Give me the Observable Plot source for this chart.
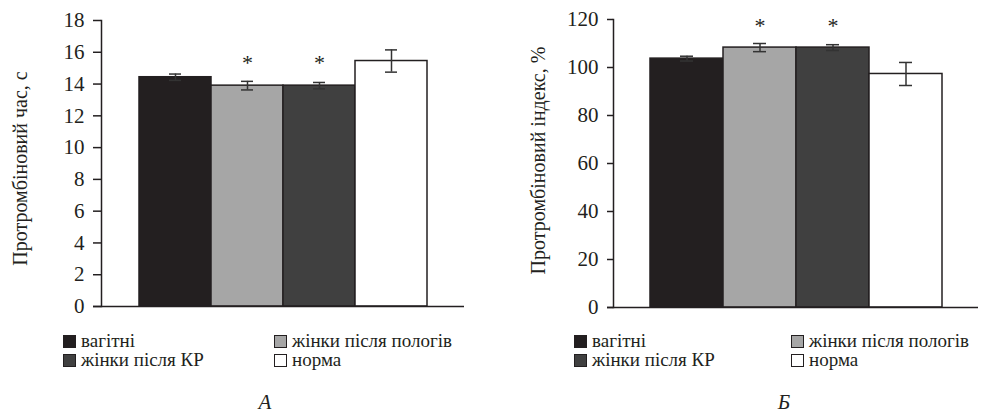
<!DOCTYPE html>
<html>
<head>
<meta charset="utf-8">
<script src="https://cdn.jsdelivr.net/npm/d3@7"></script>
<script src="https://cdn.jsdelivr.net/npm/@observablehq/plot@0.6"></script>
</head>
<body style="margin:0;padding:0;background:#fff">
<div id="root"></div>
<script>
const categories = ["вагітні", "жінки після пологів", "жінки після КР", "норма"];
const timeMean = [14.43, 13.9, 13.9, 15.45];
const timeErr = [0.2, 0.27, 0.2, 0.7];
const indexMean = [103.7, 108.3, 108.3, 97.3];
const indexErr = [1.0, 1.7, 1.2, 4.8];
const significant = [false, true, true, false];
const timeTicks = [0, 2, 4, 6, 8, 10, 12, 14, 16, 18];
const indexTicks = [0, 20, 40, 60, 80, 100, 120];
const timeLabel = "Протромбіновий час, с";
const indexLabel = "Протромбіновий індекс, %";
const panelCaptions = ["А", "Б"];

const fills = ["#231f20", "#a6a6a6", "#404040", "#ffffff"];
const ink = "#231f20";
const serif = "'Liberation Serif', monospace";

function setFont(el) { el.style.setProperty("font-family", serif, "important"); }

function panel(values, errors, ticks, yLabel, opt) {
  const data = categories.map((c, i) => ({cat: c, v: values[i], e: errors[i], sig: significant[i]}));
  const svg = Plot.plot({
    width: opt.width,
    height: 320,
    marginLeft: opt.marginLeft,
    marginRight: opt.marginRight,
    marginTop: opt.marginTop,
    marginBottom: opt.marginBottom,
    style: {fontSize: "20px", background: "transparent", color: ink, overflow: "visible"},
    x: {domain: categories, paddingInner: 0, paddingOuter: 0.5, axis: null},
    y: {domain: [0, ticks[ticks.length - 1]], axis: null},
    color: {domain: categories, range: fills},
    marks: [
      Plot.barY(data, {x: "cat", y: "v", fill: "cat", stroke: ink, strokeWidth: 1.5}),
      Plot.ruleX(data, {x: "cat", y1: d => d.v - d.e, y2: d => d.v + d.e, stroke: "#333", strokeWidth: 1.5}),
      Plot.tickY(data, {x: "cat", y: d => d.v + d.e, inset: 30, stroke: "#333", strokeWidth: 1.5}),
      Plot.tickY(data, {x: "cat", y: d => d.v - d.e, inset: 30, stroke: "#333", strokeWidth: 1.5}),
      Plot.text(data.filter(d => d.sig), {x: "cat", y: opt.starY, text: () => "*", fontSize: 22, lineAnchor: "top", dy: 1}),
      Plot.axisY({ticks: ticks, tickSize: opt.tickSize, tickPadding: 9, label: null, fontSize: 21, strokeWidth: 1.5}),
      Plot.frame({anchor: "left", stroke: ink, strokeWidth: 1.5}),
      Plot.ruleY([0], {stroke: ink, strokeWidth: 1.5, insetLeft: -opt.tickSize}),
      Plot.text([yLabel], {frameAnchor: "left", textAnchor: "middle", lineAnchor: "middle", rotate: -90,
        dx: opt.labelDx, dy: opt.labelDy, fontSize: 20})
    ]
  });
  setFont(svg);
  svg.setAttribute("font-family", serif);
  svg.querySelectorAll("text, g, tspan").forEach(el => { setFont(el); el.setAttribute("font-family", serif); });
  return svg;
}

const root = document.getElementById("root");
Object.assign(root.style, {position: "relative", width: "987px", height: "416px", overflow: "hidden", color: ink});
setFont(root);

const pA = panel(timeMean, timeErr, timeTicks, timeLabel,
  {width: 493, marginLeft: 101, marginRight: 29, marginTop: 20, marginBottom: 14, labelDx: -81, labelDy: 5, starY: 15.9, tickSize: 8});
Object.assign(pA.style, {position: "absolute", left: "0px", top: "0px"});
root.appendChild(pA);

const pB = panel(indexMean, indexErr, indexTicks, indexLabel,
  {width: 487, marginLeft: 113, marginRight: 9, marginTop: 19, marginBottom: 13, labelDx: -75, labelDy: -3, starY: 121.5, tickSize: 6});
Object.assign(pB.style, {position: "absolute", left: "500px", top: "0px"});
root.appendChild(pB);

function legend(col1, col2) {
  const pos = [[col1, 331], [col2, 331], [col1, 350], [col2, 350]];
  categories.forEach((c, i) => {
    const d = document.createElement("div");
    Object.assign(d.style, {position: "absolute", left: pos[i][0] + "px", top: pos[i][1] + "px",
      fontSize: "19px", lineHeight: "19px", whiteSpace: "nowrap"});
    setFont(d);
    const s = document.createElement("span");
    Object.assign(s.style, {display: "inline-block", width: "11px", height: "11px", border: "1px solid " + ink,
      marginRight: "5px", verticalAlign: "-1px", background: fills[i]});
    d.appendChild(s);
    d.appendChild(document.createTextNode(c));
    root.appendChild(d);
  });
}
legend(63, 274);
legend(574, 791);

function caption(text, cx) {
  const d = document.createElement("div");
  Object.assign(d.style, {position: "absolute", left: cx + "px", top: "390px", fontSize: "21px",
    lineHeight: "24px", fontStyle: "italic", transform: "translateX(-50%)"});
  setFont(d);
  d.textContent = text;
  root.appendChild(d);
}
caption(panelCaptions[0], 265);
caption(panelCaptions[1], 784);
</script>
</body>
</html>
